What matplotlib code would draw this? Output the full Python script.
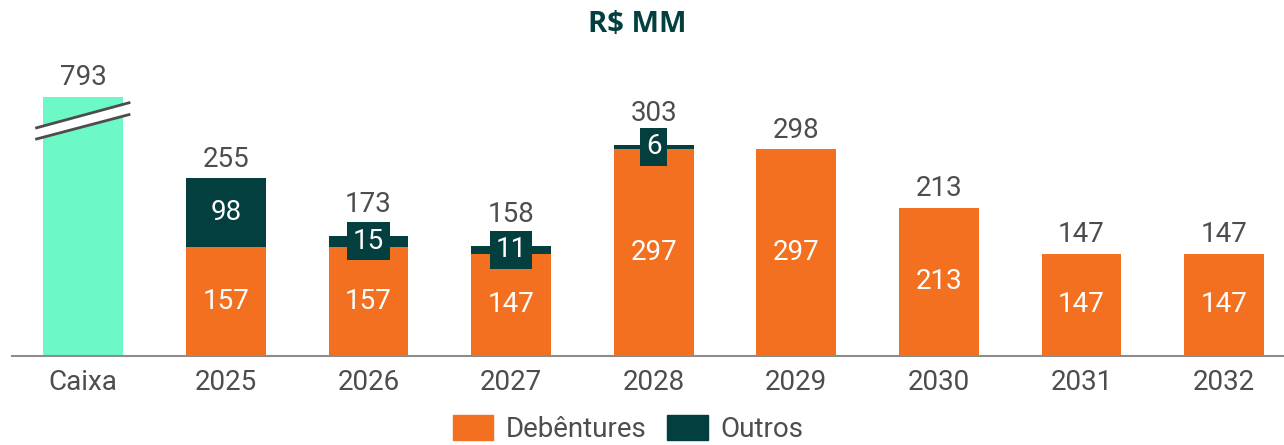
import numpy as np
import matplotlib
matplotlib.use("Agg")
import matplotlib.pyplot as plt
from matplotlib.patches import Patch, Polygon

plt.rcParams['font.family'] = ['Roboto', 'DejaVu Sans']

# data
categories = ['Caixa', '2025', '2026', '2027', '2028', '2029', '2030', '2031', '2032']
caixa = 793
debentures = [157, 157, 147, 297, 297, 213, 147, 147]
outros = [98, 15, 11, 6, 0, 0, 0, 0]
totals = [255, 173, 158, 303, 298, 213, 147, 147]

# colours
c_deb = '#F37021'
c_out = '#023F3E'
c_caixa = '#6CF9C6'
c_txt = '#4D4D4D'

caixa_cap = 372   # drawn height of the broken Caixa bar

fig = plt.figure(figsize=(12.84, 4.45), dpi=100)
ax = fig.add_axes([12 / 1284, 89 / 445, 1 - 12 / 1284, 1 - 89 / 445])

x = np.arange(len(categories))
w = 0.56

ax.bar(x[0], caixa_cap, w, color=c_caixa)
ax.bar(x[1:], debentures, w, color=c_deb)
ax.bar(x[1:], outros, w, bottom=debentures, color=c_out)

# break marker on the Caixa bar
bx = np.array([-0.337, 0.33])
lo = np.array([311, 347])
hi = np.array([327, 364])
ax.add_patch(Polygon([[bx[0], lo[0]], [bx[1], lo[1]], [bx[1], hi[1]], [bx[0], hi[0]]],
                     closed=True, facecolor='white', edgecolor='none', zorder=3))
ax.plot(bx, lo, color='#4D4D4D', lw=2, zorder=4, solid_capstyle='butt')
ax.plot(bx, hi, color='#4D4D4D', lw=2, zorder=4, solid_capstyle='butt')

fs = 20
ax.annotate(str(caixa), (x[0], caixa_cap), xytext=(0, 4), textcoords='offset points',
            ha='center', va='bottom', fontsize=fs, color=c_txt)

for i, (d, o, t) in enumerate(zip(debentures, outros, totals)):
    xi = x[i + 1]
    ax.text(xi, d / 2, str(d), ha='center', va='center', color='white', fontsize=fs)
    extra = 0
    if o >= 50:
        ax.text(xi, d + o / 2, str(o), ha='center', va='center', color='white', fontsize=fs)
    elif o > 0:
        ax.text(xi, d + o / 2, str(o), ha='center', va='center', color='white', fontsize=fs,
                bbox=dict(boxstyle='square,pad=0.2', facecolor=c_out, edgecolor='none'), zorder=5)
        extra = 9
    ax.annotate(str(t), (xi, d + o), xytext=(0, 4 + extra), textcoords='offset points',
                ha='center', va='bottom', fontsize=fs, color=c_txt)

ax.set_xlim(-0.5, 8.42)
ax.set_ylim(0, 511)
ax.set_xticks(x)
ax.set_xticklabels(categories, fontsize=fs, color=c_txt)
ax.tick_params(axis='x', length=0, pad=9)
ax.set_yticks([])
for s in ['top', 'right', 'left']:
    ax.spines[s].set_visible(False)
ax.spines['bottom'].set_color('#8C8C8C')
ax.spines['bottom'].set_linewidth(1.5)

fig.text(637 / 1284, 1 - 25 / 445, 'R$ MM', ha='center', va='center',
         fontsize=21, fontweight='bold', color=c_out, family=['Open Sans', 'DejaVu Sans'])

handles = [Patch(color=c_deb, label='Debêntures'), Patch(color=c_out, label='Outros')]
fig.legend(handles=handles, loc='center', bbox_to_anchor=(628 / 1284, 1 - 429 / 445),
           ncol=2, frameon=False, fontsize=fs, handlelength=1.45, handleheight=1.0,
           handletextpad=0.45, columnspacing=0.75, labelcolor=c_txt)

fig.savefig('out.png', dpi=100)
